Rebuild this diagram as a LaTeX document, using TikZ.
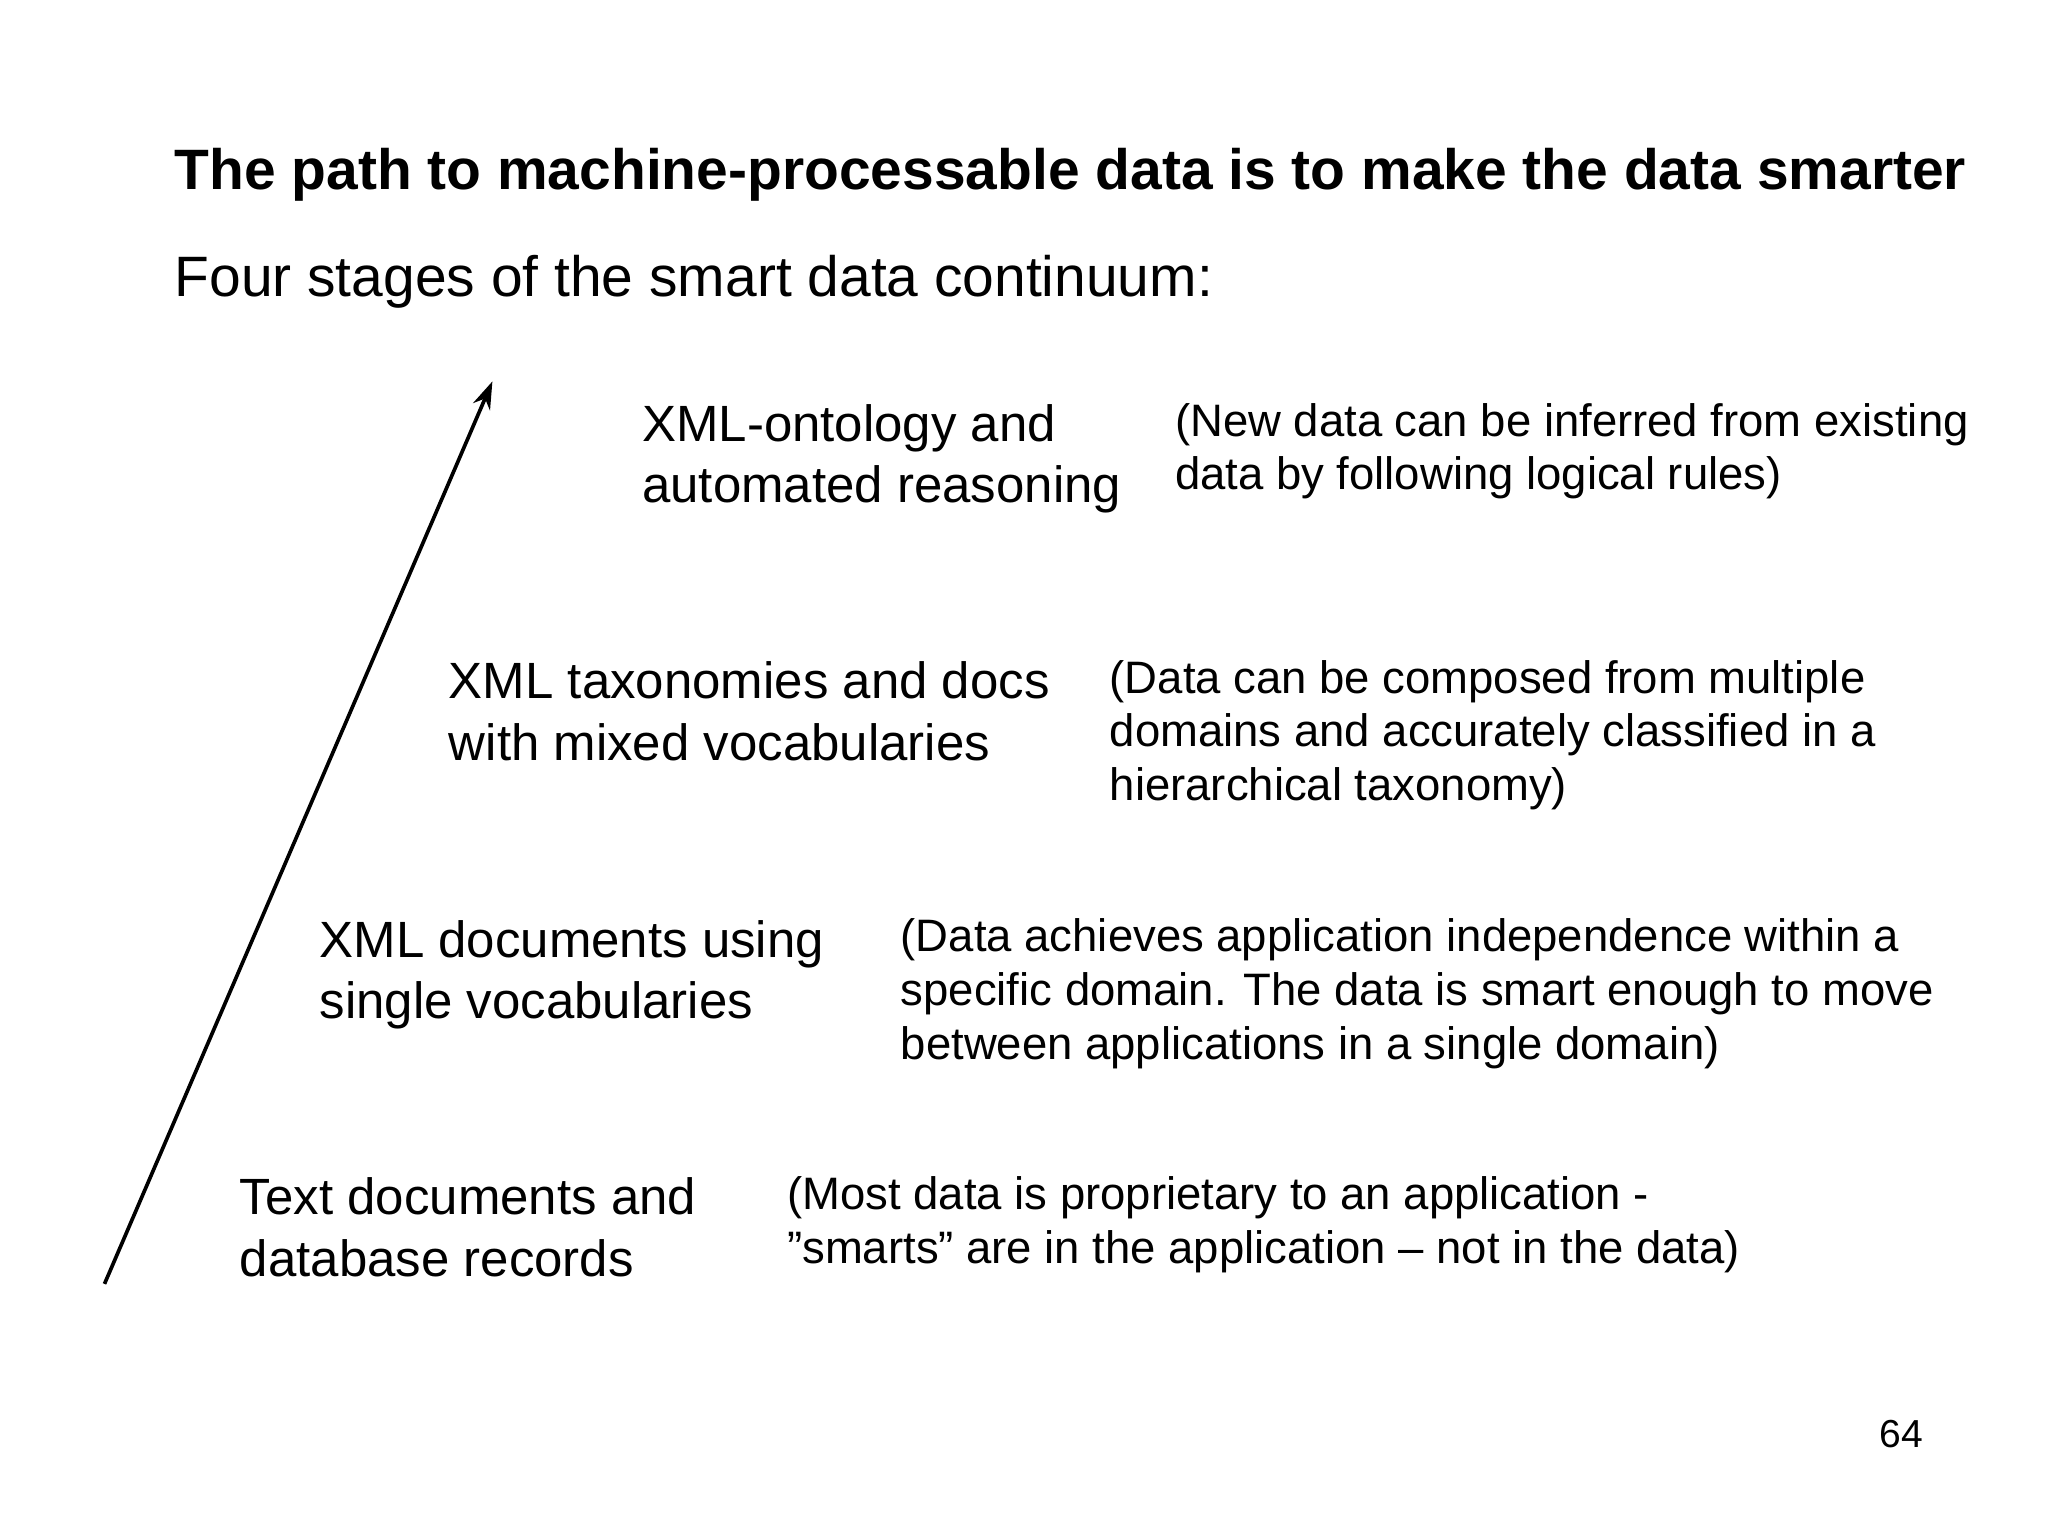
\documentclass[tikz,border=0pt]{standalone}
\usepackage{fontspec}
\setmainfont{Liberation Sans}
\usetikzlibrary{arrows.meta}
\begin{document}
\begin{tikzpicture}[x=0.01cm,y=-0.01cm,
	stage/.style={anchor=base west,align=left,inner sep=0pt,font=\fontsize{11.1pt}{13.4pt}\selectfont},
	note/.style={anchor=base west,align=left,inner sep=0pt,font=\fontsize{9.9pt}{11.7pt}\selectfont}]
	\useasboundingbox (0,0) rectangle (1568,1176);
	\node[anchor=base west,inner sep=0pt,font=\fontsize{12.4pt}{14pt}\selectfont\bfseries] (title) at (133,145) {The path to machine-processable data is to make the data smarter};
	\node[anchor=base west,inner sep=0pt,font=\fontsize{12.4pt}{15pt}\selectfont] (sub) at (133,227) {Four stages of the smart data continuum:};
	
	% stages, placed at the baseline of their last line
	\node[stage] (t4) at (491,385) {XML-ontology and\\automated reasoning};
	\node[note] (d4) at (899,375) {(New data can be inferred from existing\\data by following logical rules)};
	\node[stage] (t3) at (343,582) {XML taxonomies and docs\\with mixed vocabularies};
	\node[note] (d3) at (849,613) {(Data can be composed from multiple\\domains and accurately classified in a\\hierarchical taxonomy)};
	\node[stage] (t2) at (244,780) {XML documents using\\single vocabularies};
	\node[note] (d2) at (689,811) {(Data achieves application independence within a\\specific domain. The data is smart enough to move\\between applications in a single domain)};
	\node[stage] (t1) at (183,977) {Text documents and\\database records};
	\node[note] (d1) at (602,967) {(Most data is proprietary to an application -\\\char"201Dsmarts\char"201D{} are in the application -- not in the data)};
	
	\coordinate (lo) at (80,983);
	\coordinate (hi) at (377,292);
	\draw[line width=0.8pt,-{Stealth[length=6pt,width=4pt]}] (lo) -- (hi);
	
	\node[anchor=base east,inner sep=0pt,font=\fontsize{8.5pt}{10pt}\selectfont] (page) at (1473,1108) {64};
\end{tikzpicture}
\end{document}
